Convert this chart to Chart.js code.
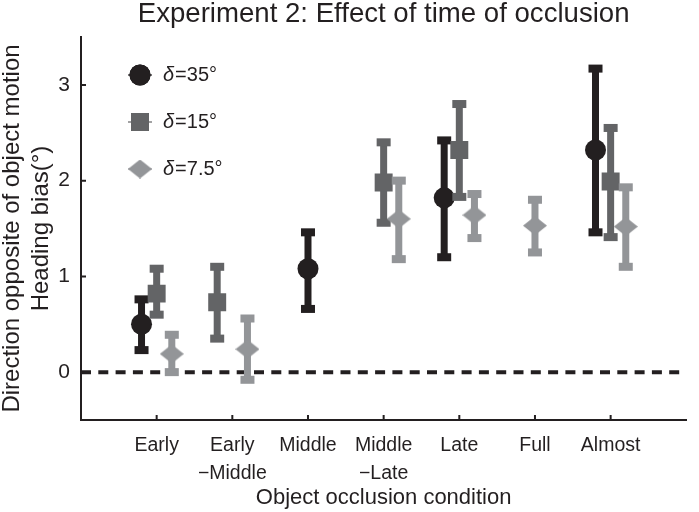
<!DOCTYPE html>
<html>
<head>
<meta charset="utf-8">
<script src="https://cdn.jsdelivr.net/npm/chart.js@4.4.1/dist/chart.umd.min.js"></script>
<style>
  html, body { margin: 0; padding: 0; background: #fff; }
  #wrap { width: 699px; height: 512px; }
</style>
</head>
<body>
<div id="wrap"><canvas id="chart" width="699" height="512"></canvas></div>
<script>
// conditions on the x axis (1..7)
const categories = ['Early', ['Early', '\u2212Middle'], 'Middle', ['Middle', '\u2212Late'], 'Late', 'Full', 'Almost'];
const seriesLabels = ['35\u00b0', '15\u00b0', '7.5\u00b0'];
const yTicks = [0, 1, 2, 3];

// delta = 35
const mean35 = [0.50, null, 1.08, null, 1.82, null, 2.32];
const low35  = [0.23, null, 0.66, null, 1.20, null, 1.46];
const high35 = [0.76, null, 1.46, null, 2.42, null, 3.17];
const shift35 = [-0.2, 0, 0, 0, -0.2, 0, -0.2];

// delta = 15
const mean15 = [0.82, 0.73, null, 1.98, 2.32, null, 1.99];
const low15  = [0.60, 0.35, null, 1.56, 1.83, null, 1.41];
const high15 = [1.08, 1.10, null, 2.40, 2.80, null, 2.55];
const shift15 = [0, -0.2, 0, 0, 0, 0, 0];

// delta = 7.5
const mean7 = [0.19, 0.24, null, 1.60, 1.64, 1.53, 1.52];
const low7  = [0.00, -0.08, null, 1.18, 1.40, 1.25, 1.10];
const high7 = [0.39, 0.56, null, 2.00, 1.86, 1.80, 1.93];
const shift7 = [0.2, 0.2, 0, 0.2, 0.2, 0, 0.2];

const BLACK = '#231f20';
const DARK = '#636466';
const LIGHT = '#939598';
const FONT = "'Liberation Sans', Arial, Helvetica, sans-serif";

function points(mean, low, high, shift) {
  return mean.map((m, i) => m === null ? null : { x: i + 1 + shift[i], y: m, lo: low[i], hi: high[i] })
    .filter(p => p !== null);
}

// flat diamond marker
const diamond = document.createElement('canvas');
diamond.width = 24; diamond.height = 19;
(function () {
  const c = diamond.getContext('2d');
  c.fillStyle = LIGHT;
  c.beginPath();
  c.moveTo(12, 0); c.lineTo(24, 9.5); c.lineTo(12, 19); c.lineTo(0, 9.5);
  c.closePath();
  c.fill();
})();

// error bars with square caps, drawn under each dataset's markers
const errorBars = {
  id: 'errorBars',
  beforeDatasetDraw(chart, args) {
    const ds = chart.data.datasets[args.index];
    if (!ds.errorBars) return;
    const ctx = chart.ctx;
    const xs = chart.scales.x, ys = chart.scales.y;
    ctx.save();
    ctx.fillStyle = ds.backgroundColor;
    ds.data.forEach(p => {
      const x = xs.getPixelForValue(p.x);
      const y1 = ys.getPixelForValue(p.hi);
      const y2 = ys.getPixelForValue(p.lo);
      ctx.fillRect(x - 3.5, y1, 7, y2 - y1);
      ctx.fillRect(x - 7, y1 - 4, 14, 8);
      ctx.fillRect(x - 7, y2 - 4, 14, 8);
    });
    ctx.restore();
  }
};

// inward tick marks and the in-plot legend
const extras = {
  id: 'extras',
  afterDraw(chart) {
    const ctx = chart.ctx;
    const xs = chart.scales.x, ys = chart.scales.y;
    const area = chart.chartArea;
    ctx.save();
    ctx.strokeStyle = BLACK;
    ctx.lineWidth = 2;
    ctx.beginPath();
    yTicks.forEach(v => {
      const y = ys.getPixelForValue(v);
      ctx.moveTo(area.left, y); ctx.lineTo(area.left + 5, y);
    });
    categories.forEach((c, i) => {
      const x = xs.getPixelForValue(i + 1);
      ctx.moveTo(x, area.bottom); ctx.lineTo(x, area.bottom - 5);
    });
    ctx.stroke();

    const rows = chart.data.datasets.filter(d => d.errorBars);
    rows.forEach((ds, i) => {
      const y = 75 + i * 47;
      const x = 140;
      ctx.strokeStyle = ds.backgroundColor;
      ctx.lineWidth = 1.2;
      ctx.beginPath();
      ctx.moveTo(x - 12, y); ctx.lineTo(x + 12, y);
      ctx.stroke();
      Chart.helpers.drawPoint(ctx, {
        pointStyle: ds.pointStyle, radius: ds.pointRadius, rotation: 0, borderWidth: 0
      }, x, y);
      ctx.fillStyle = ds.backgroundColor;
      if (ds.pointStyle !== diamond) ctx.fill();
      ctx.fillStyle = BLACK;
      ctx.textBaseline = 'middle';
      ctx.font = 'italic 20px ' + FONT;
      ctx.fillText('\u03b4', 163, y);
      const w = ctx.measureText('\u03b4').width;
      ctx.font = '20px ' + FONT;
      ctx.fillText('=' + seriesLabels[i], 163 + w + 1, y);
    });
    ctx.restore();
  }
};

new Chart(document.getElementById('chart'), {
  type: 'scatter',
  data: {
    datasets: [
      {
        type: 'line', data: [{ x: 0, y: 0 }, { x: 8, y: 0 }],
        borderColor: BLACK, borderWidth: 4, borderDash: [10, 7.3],
        pointRadius: 0, order: 10
      },
      {
        label: seriesLabels[0], data: points(mean35, low35, high35, shift35), errorBars: true,
        backgroundColor: BLACK, borderWidth: 0, pointStyle: 'circle', pointRadius: 10.5, order: 3
      },
      {
        label: seriesLabels[1], data: points(mean15, low15, high15, shift15), errorBars: true,
        backgroundColor: DARK, borderWidth: 0, pointStyle: 'rect', pointRadius: 12.7, order: 2
      },
      {
        label: seriesLabels[2], data: points(mean7, low7, high7, shift7), errorBars: true,
        backgroundColor: LIGHT, borderWidth: 0, pointStyle: diamond, pointRadius: 12, order: 1
      }
    ]
  },
  options: {
    responsive: false,
    animation: false,
    events: [],
    layout: { padding: { right: 2 } },
    plugins: {
      legend: { display: false },
      tooltip: { enabled: false },
      title: {
        display: true,
        fullSize: false,
        text: 'Experiment 2: Effect of time of occlusion',
        color: BLACK,
        font: { family: FONT, size: 27.6, weight: 'normal', lineHeight: 1.0 },
        padding: { top: 0.5, bottom: 8.9 }
      }
    },
    scales: {
      x: {
        type: 'linear', min: 0, max: 8,
        afterBuildTicks: s => { s.ticks = categories.map((c, i) => ({ value: i + 1 })); },
        afterFit: s => { s.height = 92; },
        grid: { display: false },
        border: { display: true, color: BLACK, width: 2 },
        ticks: {
          color: BLACK, padding: 3, maxRotation: 0, autoSkip: false,
          font: { family: FONT, size: 19.5, lineHeight: 1.45 },
          callback: v => categories[v - 1]
        },
        title: {
          display: true, text: 'Object occlusion condition', color: BLACK,
          font: { family: FONT, size: 22 }, padding: { top: 0, bottom: 1 }
        }
      },
      y: {
        min: -0.5, max: 3.5,
        afterBuildTicks: s => { s.ticks = yTicks.map(v => ({ value: v })); },
        afterFit: s => { s.width = 81; },
        grid: { display: false },
        border: { display: true, color: BLACK, width: 2 },
        ticks: { color: BLACK, padding: 3, font: { family: FONT, size: 21 } },
        title: {
          display: true, text: ['Direction opposite of object motion', 'Heading bias(\u00b0)'],
          color: BLACK, font: { family: FONT, size: 24, lineHeight: 1.2 }, padding: { top: -2, bottom: 0 }
        }
      }
    }
  },
  plugins: [errorBars, extras]
});
</script>
</body>
</html>
